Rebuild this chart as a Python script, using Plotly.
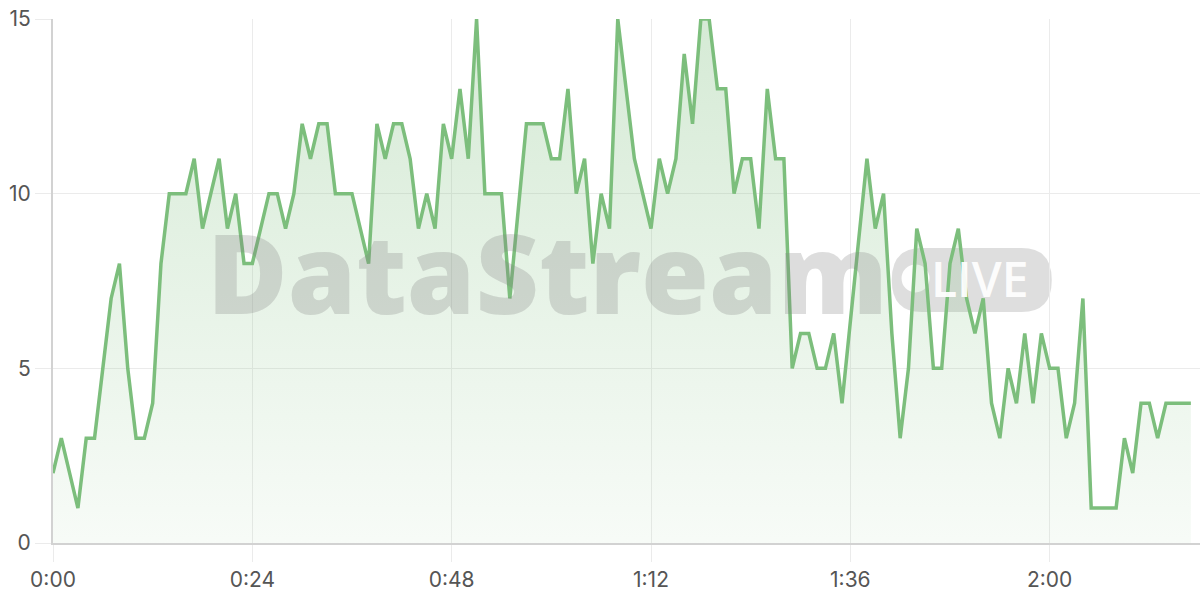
import plotly.graph_objects as go

# one sample per second, 0:00 .. 2:17
seconds = list(range(138))
events = [
    2, 3, 2, 1, 3, 3, 5, 7, 8, 5,
    3, 3, 4, 8, 10, 10, 10, 11, 9, 10,
    11, 9, 10, 8, 8, 9, 10, 10, 9, 10,
    12, 11, 12, 12, 10, 10, 10, 9, 8, 12,
    11, 12, 12, 11, 9, 10, 9, 12, 11, 13,
    11, 15, 10, 10, 10, 7, 9.5, 12, 12, 12,
    11, 11, 13, 10, 11, 8, 10, 9, 15, 13,
    11, 10, 9, 11, 10, 11, 14, 12, 15, 15,
    13, 13, 10, 11, 11, 9, 13, 11, 11, 5,
    6, 6, 5, 5, 6, 4, 6.3, 8.7, 11, 9,
    10, 6, 3, 5, 9, 8, 5, 5, 8, 9,
    7, 6, 7, 4, 3, 5, 4, 6, 4, 6,
    5, 5, 3, 4, 7, 1, 1, 1, 1, 3,
    2, 4, 4, 3, 4, 4, 4, 4,
]
tick_seconds = [0, 24, 48, 72, 96, 120]
tick_labels = [f"{s // 60}:{s % 60:02d}" for s in tick_seconds]
y_ticks = [0, 5, 10, 15]

GREEN = "#7cbe7c"
GRID = "#ebebeb"
AXIS = "#d2d2d2"
FONT = "Inter, Roboto, sans-serif"

fig = go.Figure()

fig.add_trace(go.Scatter(
    x=seconds,
    y=events,
    mode="lines",
    line=dict(color=GREEN, width=3.5),
    fill="tozeroy",
    fillgradient=dict(
        type="vertical",
        start=0,
        stop=15,
        colorscale=[[0, "rgba(125,190,125,0.06)"], [1, "rgba(125,190,125,0.32)"]],
    ),
    hoverinfo="skip",
    showlegend=False,
))

# watermark
fig.add_annotation(
    text="DataStream",
    xref="paper", yref="paper",
    x=0.431, y=0.52,
    xanchor="center", yanchor="middle",
    showarrow=False,
    font=dict(family="Open Sans, sans-serif", size=110, weight=800,
              color="rgba(128,128,128,0.27)"),
)
fig.add_shape(
    type="path",
    xref="paper", yref="paper",
    xsizemode="pixel", ysizemode="pixel",
    xanchor=0.801, yanchor=0.502,
    path=(
        "M -50,-32 L 50,-32 Q 80,-32 80,0 Q 80,32 50,32 "
        "L -50,32 Q -80,32 -80,0 Q -80,-32 -50,-32 Z"
    ),
    fillcolor="rgba(128,128,128,0.26)",
    line=dict(width=0),
    layer="below",
)
fig.add_shape(
    type="circle",
    xref="paper", yref="paper",
    xsizemode="pixel", ysizemode="pixel",
    xanchor=0.752, yanchor=0.505,
    x0=-14, x1=14, y0=-14, y1=14,
    fillcolor="rgba(255,255,255,0.95)",
    line=dict(width=0),
    layer="below",
)
fig.add_annotation(
    text="LIVE",
    xref="paper", yref="paper",
    x=0.808, y=0.505,
    xanchor="center", yanchor="middle",
    showarrow=False,
    font=dict(family="Open Sans, sans-serif", size=48, weight=600,
              color="rgba(255,255,255,0.95)"),
)

fig.update_layout(
    width=1200,
    height=600,
    margin=dict(l=53, r=0, t=19, b=57),
    paper_bgcolor="white",
    plot_bgcolor="white",
    font=dict(family=FONT, size=21, color="#555555"),
    xaxis=dict(
        range=[0, 138.1],
        tickvals=tick_seconds,
        ticktext=tick_labels,
        showgrid=True,
        gridcolor=GRID,
        gridwidth=1,
        zeroline=False,
        showline=True,
        linecolor=AXIS,
        linewidth=2,
        ticks="outside",
        ticklen=17,
        tickcolor=GRID,
        tickwidth=1,
    ),
    yaxis=dict(
        range=[0, 15],
        tickvals=y_ticks,
        showgrid=True,
        gridcolor=GRID,
        gridwidth=1,
        zeroline=False,
        showline=True,
        linecolor=AXIS,
        linewidth=2,
        ticks="outside",
        ticklen=16,
        tickcolor=GRID,
        tickwidth=1,
    ),
)

fig.write_html(
    "out.html",
    config={"displayModeBar": False},
    post_script="document.body.style.margin = '0';",
)
